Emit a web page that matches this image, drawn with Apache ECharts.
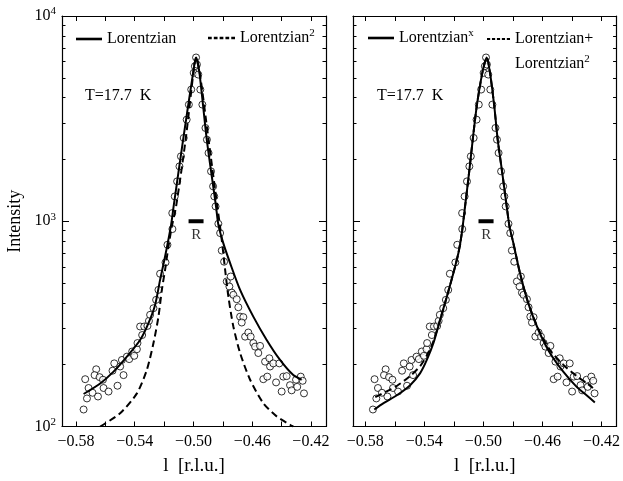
<!DOCTYPE html>
<html>
<head>
<meta charset="utf-8">
<script src="https://cdn.jsdelivr.net/npm/echarts@6/dist/echarts.min.js"></script>
<style>
  html, body { margin: 0; padding: 0; background: #fff; }
  #chart { width: 623px; height: 481px; }
</style>
</head>
<body>
<div id="chart"></div>
<script>
// measured intensities (same scan shown in both panels)
const obs = [
  [-0.5748, 121], [-0.5737, 170], [-0.5714, 154], [-0.5725, 137], [-0.5687, 146], [-0.5662, 190],
  [-0.5673, 178], [-0.5650, 140], [-0.5639, 174], [-0.5612, 154], [-0.5616, 169], [-0.5578, 148],
  [-0.5539, 203], [-0.5551, 187], [-0.5517, 158], [-0.5499, 196], [-0.5476, 178], [-0.5487, 211],
  [-0.5453, 219], [-0.5437, 213], [-0.5417, 232], [-0.5403, 221], [-0.5385, 238], [-0.5381, 255],
  [-0.5363, 307], [-0.5349, 279], [-0.5335, 307], [-0.5313, 309], [-0.5303, 327], [-0.5295, 350],
  [-0.5272, 377], [-0.5254, 414], [-0.5238, 463], [-0.5227, 555], [-0.5190, 630], [-0.5177, 768],
  [-0.5143, 916], [-0.5144, 1096], [-0.5127, 1321], [-0.5111, 1564], [-0.5095, 1851], [-0.5085, 2071],
  [-0.5066, 2546], [-0.5046, 3127], [-0.5031, 3701], [-0.5015, 4381], [-0.4998, 5284], [-0.4990, 5690],
  [-0.4982, 6280], [-0.4976, 5800], [-0.4967, 5183], [-0.4953, 4381], [-0.4939, 3701], [-0.4918, 2848],
  [-0.4908, 2498], [-0.4897, 2151], [-0.4880, 1750], [-0.4866, 1479], [-0.4858, 1321], [-0.4849, 1181],
  [-0.4830, 972], [-0.4818, 876], [-0.4807, 720], [-0.4791, 635], [-0.4773, 509], [-0.4755, 481],
  [-0.4746, 538], [-0.4739, 449], [-0.4728, 438], [-0.4705, 417], [-0.4694, 381], [-0.4682, 343],
  [-0.4660, 341], [-0.4671, 321], [-0.4648, 274], [-0.4626, 287], [-0.4610, 274], [-0.4592, 255],
  [-0.4580, 245], [-0.4546, 247], [-0.4558, 228], [-0.4512, 207], [-0.4483, 215], [-0.4478, 196],
  [-0.4456, 203], [-0.4415, 203], [-0.4524, 170], [-0.4497, 175], [-0.4437, 164], [-0.4399, 148],
  [-0.4388, 175], [-0.4365, 176], [-0.4342, 159], [-0.4331, 150], [-0.4301, 169], [-0.4293, 156],
  [-0.4269, 175], [-0.4256, 167], [-0.4247, 145]
]

// fits, left panel
const fitLor = [
  [-0.5748, 144], [-0.5635, 162], [-0.5544, 185], [-0.5453, 219], [-0.5363, 264], [-0.5306, 319],
  [-0.5261, 391], [-0.5227, 518], [-0.5193, 673], [-0.5152, 961], [-0.5135, 1177], [-0.5070, 2498],
  [-0.5002, 5284], [-0.4982, 6280], [-0.4959, 5284], [-0.4909, 2498], [-0.4846, 1181], [-0.4830, 960],
  [-0.4796, 780], [-0.4750, 625], [-0.4682, 463], [-0.4592, 343], [-0.4501, 264], [-0.4410, 211],
  [-0.4320, 178], [-0.4263, 169]
]
const fitLor2 = [
  [-0.5635, 100], [-0.5499, 116], [-0.5385, 145], [-0.5317, 189], [-0.5272, 255], [-0.5238, 343],
  [-0.5215, 463], [-0.5193, 580], [-0.5170, 753], [-0.5147, 943], [-0.5118, 1181], [-0.5053, 2498],
  [-0.4999, 5362], [-0.4982, 6280], [-0.4958, 5362], [-0.4897, 2498], [-0.4837, 1181], [-0.4807, 812],
  [-0.4784, 580], [-0.4762, 430], [-0.4728, 307], [-0.4682, 228], [-0.4614, 169], [-0.4524, 130],
  [-0.4433, 112], [-0.4342, 102], [-0.4320, 100]
]

// fits, right panel
const fitLorX = [
  [-0.5739, 121], [-0.5676, 130], [-0.5586, 142], [-0.5496, 159], [-0.5428, 182], [-0.5383, 211],
  [-0.5338, 255], [-0.5293, 331], [-0.5247, 430], [-0.5203, 559], [-0.5169, 700], [-0.5146, 876],
  [-0.5124, 1181], [-0.5097, 1719], [-0.5072, 2498], [-0.5045, 3631], [-0.5007, 5284], [-0.4977, 6280],
  [-0.4955, 5284], [-0.4926, 3631], [-0.4903, 2498], [-0.4872, 1719], [-0.4842, 1181], [-0.4823, 943],
  [-0.4797, 783], [-0.4752, 559], [-0.4696, 399], [-0.4628, 296], [-0.4549, 228], [-0.4459, 185],
  [-0.4368, 156], [-0.4301, 142], [-0.4245, 131]
]
const fitLorSum = [
  [-0.5732, 139], [-0.5665, 147], [-0.5584, 158], [-0.5496, 176], [-0.5428, 197], [-0.5381, 223],
  [-0.5338, 261], [-0.5293, 331], [-0.5247, 430], [-0.5203, 559], [-0.5169, 700], [-0.5146, 876],
  [-0.5124, 1181], [-0.5097, 1719], [-0.5072, 2498], [-0.5045, 3631], [-0.5007, 5284], [-0.4977, 6280],
  [-0.4955, 5284], [-0.4926, 3631], [-0.4903, 2498], [-0.4872, 1719], [-0.4842, 1181], [-0.4823, 943],
  [-0.4797, 783], [-0.4752, 559], [-0.4696, 399], [-0.4628, 299], [-0.4549, 236], [-0.4459, 200],
  [-0.4368, 176], [-0.4301, 163], [-0.4258, 154]
]

// resolution bar "R"
const resBar = [[-0.5033, 1000], [-0.4931, 1000]]
const resLabel = [[-0.4980, 1000]]

// ticks
const xTicks = [-0.58, -0.56, -0.54, -0.52, -0.50, -0.48, -0.46, -0.44, -0.42]
const xLabels = [-0.58, -0.54, -0.50, -0.46, -0.42]
const yMajor = [100, 1000, 10000]
const yMinor = [200, 300, 400, 500, 600, 700, 800, 900, 2000, 3000, 4000, 5000, 6000, 7000, 8000, 9000]

const FONT = 'Liberation Serif'
const xRange = [[-0.5895, -0.4097], [-0.5883, -0.4098]]

// legend icons: a plain stroke and a short-dash stroke
const ICON_SOLID = 'path://M0 0H26V2.6H0Z'
const ICON_DASH = 'path://M0 0H3.6V2.2H0Z M5.6 0H9.2V2.2H5.6Z M11.2 0H14.8V2.2H11.2Z M16.8 0H20.4V2.2H16.8Z M22.4 0H26V2.2H22.4Z'

function xAxisOf(grid, pos) {
  const bottom = pos === 'bottom'
  return {
    type: 'value',
    gridIndex: grid,
    position: pos,
    min: xRange[grid][0],
    max: xRange[grid][1],
    splitLine: { show: false },
    axisLine: { show: true, onZero: false, lineStyle: { color: '#000', width: 1.2 } },
    axisTick: { show: true, inside: true, length: 5, customValues: xTicks, lineStyle: { color: '#000', width: 1 } },
    axisLabel: bottom ? {
      show: true,
      customValues: xLabels,
      margin: 7,
      color: '#000',
      fontFamily: FONT,
      fontSize: 16,
      formatter: v => v.toFixed(2).replace('-', '\u2212')
    } : { show: false },
    name: bottom ? 'l  [r.l.u.]' : '',
    nameLocation: 'middle',
    nameGap: 30,
    nameTextStyle: { color: '#000', fontFamily: FONT, fontSize: 19 }
  }
}

function yAxisOf(grid, pos, major, withLabels) {
  return {
    type: 'log',
    logBase: 10,
    gridIndex: grid,
    position: pos,
    min: 100,
    max: 10000,
    splitLine: { show: false },
    axisLine: { show: major, lineStyle: { color: '#000', width: 1.2 } },
    axisTick: {
      show: true,
      inside: true,
      length: major ? 7 : 3.5,
      customValues: major ? yMajor : yMinor,
      lineStyle: { color: '#000', width: 1 }
    },
    axisLabel: withLabels ? {
      show: true,
      customValues: yMajor,
      margin: 6,
      formatter: v => '{b|10}{s|' + Math.round(Math.log10(v)) + '}',
      rich: {
        b: { fontFamily: FONT, fontSize: 16, color: '#000' },
        s: { fontFamily: FONT, fontSize: 11, color: '#000', padding: [0, 0, 9, 0] }
      }
    } : { show: false },
    name: withLabels ? 'Intensity' : '',
    nameLocation: 'middle',
    nameGap: 38,
    nameTextStyle: { color: '#000', fontFamily: FONT, fontSize: 18 }
  }
}

const supRich = {
  s: { fontFamily: FONT, fontSize: 11, color: '#000', padding: [0, 0, 9, 0] }
}
const legendNames = {
  Lorentzian: 'Lorentzian',
  Lorentzian2: 'Lorentzian{s|2}',
  LorentzianX: 'Lorentzian{s|x}',
  LorentzianSum: 'Lorentzian+'
}

function fitSeries(name, x, y, data, dashed) {
  return {
    type: 'line',
    name: name,
    xAxisIndex: x,
    yAxisIndex: y,
    data: data,
    symbol: 'none',
    smooth: 0.25,
    clip: true,
    lineStyle: { color: '#000', width: 2, type: dashed ? [7, 4] : 'solid' },
    itemStyle: { color: '#000' },
    z: 4
  }
}

function dataSeries(x, y) {
  return {
    type: 'scatter',
    name: 'data',
    xAxisIndex: x,
    yAxisIndex: y,
    data: obs,
    symbol: 'circle',
    symbolSize: 7,
    itemStyle: { color: '#fff', borderColor: '#000', borderWidth: 1 },
    z: 3
  }
}

function resSeries(x, y) {
  return [{
    type: 'line',
    name: 'res',
    xAxisIndex: x,
    yAxisIndex: y,
    data: resBar,
    symbol: 'none',
    lineStyle: { color: '#000', width: 4 },
    z: 5
  }, {
    type: 'scatter',
    name: 'resLabel',
    xAxisIndex: x,
    yAxisIndex: y,
    data: resLabel,
    symbolSize: 1,
    itemStyle: { color: 'rgba(0,0,0,0)' },
    label: {
      show: true,
      position: 'bottom',
      distance: 6,
      formatter: 'R',
      color: '#000',
      fontFamily: FONT,
      fontSize: 15
    },
    z: 5
  }]
}

// one legend per entry so each sits where the original put it
function legendOf(name, icon, left, top, iconWidth) {
  return {
    data: [{ name: name, icon: icon }],
    left: left,
    top: top,
    itemWidth: iconWidth,
    itemHeight: 12,
    selectedMode: false,
    itemStyle: { color: '#000' },
    textStyle: { color: '#000', fontFamily: FONT, fontSize: 16, rich: supRich },
    formatter: n => legendNames[n]
  }
}

const chart = echarts.init(document.getElementById('chart'))
chart.setOption({
  backgroundColor: '#fff',
  animation: false,
  grid: [
    { left: 62, top: 16, width: 264, height: 410.5 },
    { left: 353, top: 16, width: 264, height: 410.5 }
  ],
  xAxis: [
    xAxisOf(0, 'bottom'), xAxisOf(0, 'top'),
    xAxisOf(1, 'bottom'), xAxisOf(1, 'top')
  ],
  yAxis: [
    yAxisOf(0, 'left', true, true), yAxisOf(0, 'left', false, false),
    yAxisOf(0, 'right', true, false), yAxisOf(0, 'right', false, false),
    yAxisOf(1, 'left', true, false), yAxisOf(1, 'left', false, false),
    yAxisOf(1, 'right', true, false), yAxisOf(1, 'right', false, false)
  ],
  legend: [
    legendOf('Lorentzian', ICON_SOLID, 71, 26, 26),
    legendOf('Lorentzian2', ICON_DASH, 203, 23, 27),
    legendOf('LorentzianX', ICON_SOLID, 363, 23, 26),
    legendOf('LorentzianSum', ICON_DASH, 482, 26, 23)
  ],
  graphic: [
    { type: 'text', left: 85, top: 88, style: { text: 'T=17.7  K', fill: '#000', font: '16px "Liberation Serif"' } },
    { type: 'text', left: 377, top: 88, style: { text: 'T=17.7  K', fill: '#000', font: '16px "Liberation Serif"' } },
    { type: 'text', left: 515, top: 54, style: { text: 'Lorentzian{s|2}', fill: '#000', font: '16px "Liberation Serif"', rich: supRich } }
  ],
  series: [
    dataSeries(0, 0),
    fitSeries('Lorentzian', 0, 0, fitLor, false),
    fitSeries('Lorentzian2', 0, 0, fitLor2, true),
    ...resSeries(0, 0),
    dataSeries(2, 4),
    fitSeries('LorentzianSum', 2, 4, fitLorSum, true),
    fitSeries('LorentzianX', 2, 4, fitLorX, false),
    ...resSeries(2, 4)
  ]
})
</script>
</body>
</html>
